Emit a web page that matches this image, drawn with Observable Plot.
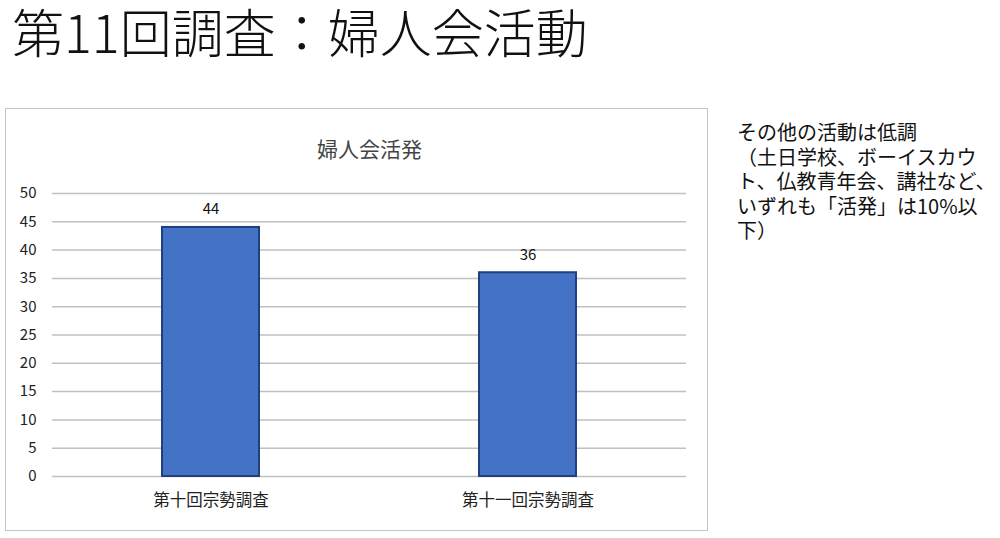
<!DOCTYPE html>
<html><head><meta charset="utf-8">
<script src="https://cdn.jsdelivr.net/npm/d3@7"></script>
<script src="https://cdn.jsdelivr.net/npm/@observablehq/plot@0.6"></script>
<style>
html,body{margin:0;padding:0;background:#fff;}
#page{position:relative;width:1000px;height:538px;overflow:hidden;font-family:"Noto Sans CJK JP","Noto Sans",sans-serif;}
#title{position:absolute;left:12px;top:5px;font-size:52px;line-height:52px;font-weight:300;color:#111;white-space:nowrap;}
#box{position:absolute;left:5px;top:108px;width:701px;height:421px;border:1.5px solid #c4c4c4;}
.note{position:absolute;left:737px;font-size:20px;line-height:22px;color:#111;white-space:nowrap;}
</style></head>
<body><div id="page">
<div id="title">第11回調査：婦人会活動</div>
<div id="box"></div>
</div>
<script>
const categories = ["第十回宗勢調査", "第十一回宗勢調査"];
const values = [44, 36];
const yTicks = [0, 5, 10, 15, 20, 25, 30, 35, 40, 45, 50];
const chartTitle = "婦人会活発";
const noteLines = ["その他の活動は低調", "（土日学校、ボーイスカウ", "ト、仏教青年会、講社など、", "いずれも「活発」は10%以", "下）"];

const page = document.getElementById("page");
noteLines.forEach((t, i) => {
  const d = document.createElement("div");
  d.className = "note";
  d.style.top = (121 + i * 24.6) + "px";
  d.textContent = t;
  page.appendChild(d);
});

const data = categories.map((c, i) => ({cat: c, v: values[i]}));

const chart = Plot.plot({
  width: 701,
  height: 421,
  marginTop: 84,
  marginBottom: 54,
  marginLeft: 46,
  marginRight: 21,
  style: {fontFamily: '"Noto Sans CJK JP","Noto Sans",sans-serif', background: "transparent", color: "#222"},
  x: {domain: categories, paddingInner: 0.688, paddingOuter: 0.344, label: null, tickSize: 0, tickPadding: 18},
  y: {domain: [0, 50], ticks: yTicks, label: null, tickSize: 0, tickPadding: 16},
  marks: [
    Plot.ruleY(yTicks, {stroke: "#c0c0c0", strokeWidth: 1.5}),
    Plot.barY(data, {x: "cat", y: "v", fill: "#4472c4", stroke: "#203f80", strokeWidth: 2, insetLeft: 1, insetRight: 1}),
    Plot.text(data, {x: "cat", y: "v", text: d => String(d.v), dy: -18, fontSize: 15, fill: "#111"}),
    Plot.axisY({ticks: yTicks, tickSize: 0, tickPadding: 16, fontSize: 15, label: null, fill: "#222"}),
    Plot.axisX({tickSize: 0, tickPadding: 18, fontSize: 16.5, label: null, fill: "#222"}),
    Plot.text([chartTitle], {frameAnchor: "top", dy: -51, fontSize: 21, fill: "#444", text: d => d})
  ]
});
chart.style.position = "absolute";
chart.style.left = "6px";
chart.style.top = "109px";
page.appendChild(chart);
</script>
</body></html>
